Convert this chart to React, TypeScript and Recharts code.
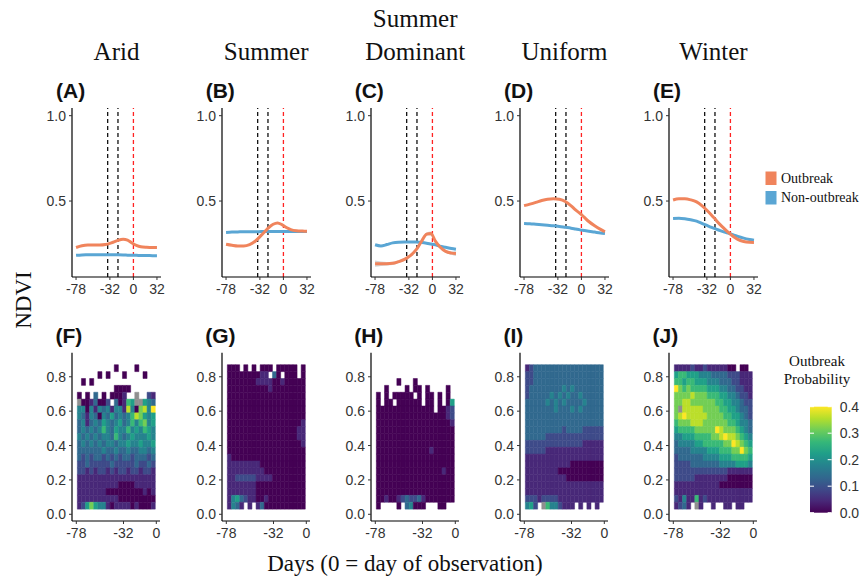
import React from 'react';
import { ComposedChart, Line, Area, XAxis, YAxis, ReferenceLine, ReferenceArea } from 'recharts';

// ---------- data: top row (smoothed NDVI trajectories) ----------
const days = [-78, -70, -62, -54, -46, -38, -30, -22, -14, -8, -2, 4, 10, 18, 26, 32];

const aridOutbreak = [0.228, 0.238, 0.242, 0.242, 0.242, 0.245, 0.255, 0.268, 0.276, 0.271, 0.254, 0.24, 0.232, 0.229, 0.228, 0.228];
const aridNon = [0.182, 0.184, 0.185, 0.186, 0.186, 0.186, 0.186, 0.185, 0.184, 0.183, 0.182, 0.182, 0.181, 0.181, 0.18, 0.18];

const summerOutbreak = [0.247, 0.241, 0.237, 0.237, 0.245, 0.266, 0.3, 0.336, 0.364, 0.372, 0.362, 0.345, 0.333, 0.326, 0.324, 0.323];
const summerNon = [0.316, 0.318, 0.319, 0.32, 0.32, 0.32, 0.321, 0.321, 0.321, 0.322, 0.322, 0.322, 0.322, 0.322, 0.322, 0.322];

const summerDomOutbreak = [0.133, 0.133, 0.133, 0.135, 0.145, 0.158, 0.18, 0.215, 0.27, 0.306, 0.31, 0.265, 0.232, 0.205, 0.195, 0.192];
const summerDomNon = [0.244, 0.237, 0.245, 0.255, 0.259, 0.26, 0.26, 0.26, 0.257, 0.253, 0.248, 0.243, 0.236, 0.229, 0.222, 0.218];
const summerDomOutbreakCI = [0.018, 0.013, 0.01, 0.009, 0.008, 0.008, 0.008, 0.008, 0.008, 0.01, 0.012, 0.01, 0.008, 0.008, 0.01, 0.014];

const uniformOutbreak = [0.473, 0.482, 0.492, 0.503, 0.511, 0.514, 0.51, 0.497, 0.472, 0.448, 0.428, 0.404, 0.38, 0.355, 0.334, 0.32];
const uniformNon = [0.369, 0.367, 0.364, 0.361, 0.358, 0.355, 0.351, 0.346, 0.341, 0.336, 0.331, 0.327, 0.323, 0.318, 0.313, 0.31];

const winterOutbreak = [0.506, 0.513, 0.513, 0.507, 0.495, 0.47, 0.437, 0.4, 0.362, 0.337, 0.313, 0.292, 0.275, 0.263, 0.258, 0.257];
const winterNon = [0.398, 0.399, 0.396, 0.39, 0.382, 0.368, 0.353, 0.34, 0.327, 0.318, 0.311, 0.302, 0.293, 0.283, 0.275, 0.27];

const regimeTitles = [['Arid'], ['Summer'], ['Summer', 'Dominant'], ['Uniform'], ['Winter']];
const topLetters = ['(A)', '(B)', '(C)', '(D)', '(E)'];
const bottomLetters = ['(F)', '(G)', '(H)', '(I)', '(J)'];
const topXTicks = [-78, -32, 0, 32];
const topYTicks = [0.5, 1.0];
const windowDays = [-35, -21];
const observationDay = 0;
const legendLabels = ['Outbreak', 'Non-outbreak'];

// ---------- data: bottom row (outbreak probability heatmaps) ----------
// rows listed top (NDVI 0.83-0.87) to bottom (0.03-0.07); columns are 4-day bins from -77 to -1
// digit = probability level (x 0.045), '.' = no data, 'g' = NA
const DAY_BIN_START = -77;
const DAY_BIN_WIDTH = 4;
const NDVI_BIN_START = 0.03;
const NDVI_BIN_WIDTH = 0.04;
const LEVEL_STEP = 0.045;
const PROB_MAX = 0.4;

const aridGrid = [
  '.........0....0....',
  '.....0.0...0....0..',
  '.0.0...............',
  '.........0000......',
  '0.0.3.0.0001..g..21',
  'g0013002.30165gg543',
  '4404143414418407849',
  '4314304353434687545',
  '3413435434534646745',
  '3434346435446454654',
  '4343434436434544454',
  '3434343443445445445',
  '3333334334334334434',
  '3232332323233233323',
  '2232222232222232232',
  '2212122121221221221',
  '1111111111111111111',
  '1111111111000011111',
  '1111111000000000101',
  '1111111111000000000',
  '1257544101111010001',
];

const summerGrid = [
  '000.0.0.000.00000.0',
  '0000000011.30.000.0',
  '0000000111100100000',
  '0000000000100000000',
  '0000000000000000000',
  '0000000000000000000',
  '0000000000000000000',
  '0000000000000000000',
  '0000000000000000001',
  '0000000000000000011',
  '0000000000000000011',
  '0000000000000000001',
  '0000000000000000000',
  '1000000000000000000',
  '1111111100000000000',
  '1111111110000000000',
  '1122222111100000000',
  '1111111000000000000',
  '1111111000000000000',
  '1453211001000000000',
  '1431.1.130000000000',
];

const summerDomGrid = [
  '...................',
  '...................',
  '.....0...0.........',
  '..0....0.00.0....0.',
  '0.0.00000.0.00.0.0.',
  '0.00.000000.00.0.05',
  '00000000000000.0012',
  '0000000000000000012',
  '0000000000000000001',
  '0000000000000000000',
  '0000000000000000000',
  '0000000000000000000',
  '0000000000000100000',
  '0000000000000000000',
  '0000000000000000000',
  '0000000000000000100',
  '0000000000000000000',
  '0000000000000000000',
  '0000000000000000000',
  '0010012322310000000',
  '0....0.34000...00..',
];

const uniformGrid = [
  '1233333333333333333',
  '2233333333333333333',
  '2233333333333333333',
  '2333333334343333333',
  '2333334343433433333',
  '3333343434333343333',
  '3333333433343433333',
  '3333333333333333333',
  '3333333333333333333',
  '3333333332333322222',
  '3333322222222222222',
  '2222222222222211111',
  '2222211111111111111',
  '1111111111111111111',
  '1111111111100000000',
  '1111111100000000000',
  '1111111111000000000',
  '1111111111111111111',
  '1111111111111111111',
  '2221222211111111111',
  '452.g6442111.1.1.1.',
];

const winterGrid = [
  '111121121111100.00.',
  '5665554443333222111',
  '6656655544433322111',
  '9767666655544332211',
  '7777877766655443221',
  '7788777777665544322',
  '7g88888777766554332',
  '7898888877776655432',
  '6777888777777665443',
  '5666677777987776543',
  '4455566667789887654',
  '3444455666667798765',
  '3333444455566677976',
  '2333333444455566665',
  '2222333333344445554',
  '2222222222222111111',
  '2222211111111000000',
  '1111111111100000000',
  '1111111111111111111',
  '2141161211111111111',
  '1231.g1..1..11.11..',
];

const heatXTicks = [-78, -32, 0];
const heatYTicks = [0, 0.2, 0.4, 0.6, 0.8];
const probTicks = [0, 0.1, 0.2, 0.3, 0.4];

// ---------- styling ----------
const ORANGE = '#F0845C';
const BLUE = '#5AA6D4';
const NA_GREY = '#8f8f8f';
const SERIF = '"Liberation Serif", "Times New Roman", serif';
const SANS = '"Liberation Sans", Arial, sans-serif';
const VIRIDIS = ['#440154', '#482878', '#3E4A89', '#31688E', '#26828E', '#1F9E89', '#35B779', '#6DCD59', '#B4DE2C', '#FDE725'];

const panelAxisX = [72, 221.7, 370.7, 520, 669];

// colour bar geometry
const BAR_X = 810;
const BAR_W = 21.7;
const BAR_TOP = 406.7;
const BAR_H = 106;

function hexRgb(h: string) {
  return [parseInt(h.slice(1, 3), 16), parseInt(h.slice(3, 5), 16), parseInt(h.slice(5, 7), 16)];
}
function viridis(t: number) {
  const c = Math.max(0, Math.min(1, t)) * (VIRIDIS.length - 1);
  const i = Math.min(Math.floor(c), VIRIDIS.length - 2);
  const f = c - i;
  const a = hexRgb(VIRIDIS[i]);
  const b = hexRgb(VIRIDIS[i + 1]);
  const m = a.map((v, k) => Math.round(v + (b[k] - v) * f));
  return `rgb(${m[0]},${m[1]},${m[2]})`;
}

function buildCells(grid: string[]) {
  const cells: { x1: number; x2: number; y1: number; y2: number; color: string }[] = [];
  grid.forEach((row, k) => {
    const r = grid.length - 1 - k;
    for (let c = 0; c < row.length; c++) {
      const ch = row[c];
      if (ch === '.') continue;
      const color = ch === 'g' ? NA_GREY : viridis((Number(ch) * LEVEL_STEP) / PROB_MAX);
      const x1 = DAY_BIN_START + c * DAY_BIN_WIDTH;
      const y1 = NDVI_BIN_START + r * NDVI_BIN_WIDTH;
      cells.push({ x1, x2: x1 + DAY_BIN_WIDTH, y1, y2: y1 + NDVI_BIN_WIDTH, color });
    }
  });
  return cells;
}

const tickStyle = { fontSize: 14, fill: '#333', fontFamily: SANS };
const axisLineStyle = { stroke: '#000', strokeWidth: 1.2 };
const tickLineStyle = { stroke: '#333', strokeWidth: 1 };

function TopPanel({ idx, out, non, ci }: { idx: number; out: number[]; non: number[]; ci?: number[] }) {
  const data = days.map((d, i) => ({
    day: d,
    out: out[i],
    non: non[i],
    band: ci ? [out[i] - ci[i], out[i] + ci[i]] : undefined,
  }));
  return (
    <div style={{ position: 'absolute', left: panelAxisX[idx] - 40, top: 100 }}>
      <ComposedChart width={139} height={207} data={data} margin={{ top: 8, right: 10, bottom: 0, left: 0 }}>
        <XAxis dataKey="day" type="number" domain={[-83.5, 37.5]} ticks={topXTicks} interval={0} height={30}
          tickSize={3} tickMargin={4} axisLine={axisLineStyle} tickLine={tickLineStyle} tick={tickStyle} allowDataOverflow />
        <YAxis type="number" domain={[0.055, 1.045]} ticks={topYTicks} width={40} tickSize={3} tickMargin={3}
          tickFormatter={(v: number) => v.toFixed(1)} axisLine={axisLineStyle} tickLine={tickLineStyle} tick={tickStyle} allowDataOverflow />
        {windowDays.map((d) => (
          <ReferenceLine key={d} x={d} stroke="#111" strokeDasharray="4 3" strokeWidth={1.3} />
        ))}
        <ReferenceLine x={observationDay} stroke="#F22" strokeDasharray="4 3" strokeWidth={1.3} />
        {ci && (
          <Area dataKey="band" type="monotone" fill="#b8b8b8" fillOpacity={0.6} stroke="none" isAnimationActive={false} />
        )}
        <Line dataKey="non" type="monotone" stroke={BLUE} strokeWidth={3} dot={false} isAnimationActive={false} />
        <Line dataKey="out" type="monotone" stroke={ORANGE} strokeWidth={3} dot={false} isAnimationActive={false} />
      </ComposedChart>
    </div>
  );
}

const heatFrame = [{ day: -78 }, { day: 0 }];

function HeatPanel({ idx, grid }: { idx: number; grid: string[] }) {
  const cells = buildCells(grid);
  return (
    <div style={{ position: 'absolute', left: panelAxisX[idx] - 40, top: 345 }}>
      <ComposedChart width={138} height={206} data={heatFrame} margin={{ top: 7.7, right: 10, bottom: 0, left: 0 }}>
        <XAxis dataKey="day" type="number" domain={[-82.2, 3.6]} ticks={heatXTicks} interval={0} height={30}
          tickSize={3} tickMargin={4} axisLine={axisLineStyle} tickLine={tickLineStyle} tick={tickStyle} allowDataOverflow />
        <YAxis type="number" domain={[-0.039, 0.94]} ticks={heatYTicks} width={40} tickSize={3} tickMargin={3}
          tickFormatter={(v: number) => v.toFixed(1)} axisLine={axisLineStyle} tickLine={tickLineStyle} tick={tickStyle} allowDataOverflow />
        {cells.map((c, i) => (
          <ReferenceArea key={i} x1={c.x1} x2={c.x2} y1={c.y1} y2={c.y2} fill={c.color} fillOpacity={1}
            stroke={c.color} strokeWidth={0.5} ifOverflow="visible" />
        ))}
      </ComposedChart>
    </div>
  );
}

function ColorBar() {
  const yOf = (v: number) => BAR_TOP + BAR_H - (v / PROB_MAX) * BAR_H;
  return (
    <g>
      <rect x={BAR_X} y={BAR_TOP} width={BAR_W} height={BAR_H} fill="url(#viridisBar)" />
      {probTicks.map((t) => (
        <g key={t}>
          <line x1={BAR_X} x2={BAR_X + 4} y1={yOf(t)} y2={yOf(t)} stroke="#fff" strokeWidth={1} />
          <line x1={BAR_X + BAR_W - 4} x2={BAR_X + BAR_W} y1={yOf(t)} y2={yOf(t)} stroke="#fff" strokeWidth={1} />
          <text x={BAR_X + BAR_W + 8} y={yOf(t)} dy="0.35em" fontFamily={SANS} fontSize={14} fill="#333">
            {t.toFixed(1)}
          </text>
        </g>
      ))}
    </g>
  );
}

export default function App() {
  const titleCenters = panelAxisX.map((x) => x + 44.5);
  return (
    <div style={{ position: 'absolute', left: 0, top: 0, width: 862, height: 579, background: '#fff', overflow: 'hidden' }}>
      <svg width={862} height={579} style={{ position: 'absolute', left: 0, top: 0 }}>
        <defs>
          <linearGradient id="viridisBar" x1="0" y1="1" x2="0" y2="0">
            {VIRIDIS.map((c, i) => (
              <stop key={i} offset={i / (VIRIDIS.length - 1)} stopColor={c} />
            ))}
          </linearGradient>
        </defs>
        {regimeTitles.map((lines, i) =>
          lines.map((t, j) => (
            <text key={`${i}-${j}`} x={titleCenters[i]} y={60 - (lines.length - 1 - j) * 33} textAnchor="middle"
              fontFamily={SERIF} fontSize={25} fill="#111">
              {t}
            </text>
          ))
        )}
        {topLetters.map((t, i) => (
          <text key={t} x={panelAxisX[i] - 16} y={98} fontFamily={SANS} fontWeight="bold" fontSize={21} fill="#111">{t}</text>
        ))}
        {bottomLetters.map((t, i) => (
          <text key={t} x={panelAxisX[i] - 16.5} y={343} fontFamily={SANS} fontWeight="bold" fontSize={21} fill="#111">{t}</text>
        ))}
        <text x={31} y={300} transform="rotate(-90 31 300)" textAnchor="middle" fontFamily={SERIF} fontSize={23} fill="#111">NDVI</text>
        <text x={405} y={571} textAnchor="middle" fontFamily={SERIF} fontSize={23} fill="#111">Days (0 = day of observation)</text>
        <rect x={765.5} y={171.5} width={11} height={13.5} fill={ORANGE} />
        <rect x={765.5} y={191} width={11} height={13.5} fill={BLUE} />
        <text x={781} y={182.5} fontFamily={SERIF} fontSize={14} fill="#111">{legendLabels[0]}</text>
        <text x={781} y={202} fontFamily={SERIF} fontSize={14} fill="#111">{legendLabels[1]}</text>
        <text x={817} y={366} textAnchor="middle" fontFamily={SERIF} fontSize={15} fill="#111">Outbreak</text>
        <text x={817} y={384} textAnchor="middle" fontFamily={SERIF} fontSize={15} fill="#111">Probability</text>
        <ColorBar />
      </svg>
      <TopPanel idx={0} out={aridOutbreak} non={aridNon} />
      <TopPanel idx={1} out={summerOutbreak} non={summerNon} />
      <TopPanel idx={2} out={summerDomOutbreak} non={summerDomNon} ci={summerDomOutbreakCI} />
      <TopPanel idx={3} out={uniformOutbreak} non={uniformNon} />
      <TopPanel idx={4} out={winterOutbreak} non={winterNon} />
      <HeatPanel idx={0} grid={aridGrid} />
      <HeatPanel idx={1} grid={summerGrid} />
      <HeatPanel idx={2} grid={summerDomGrid} />
      <HeatPanel idx={3} grid={uniformGrid} />
      <HeatPanel idx={4} grid={winterGrid} />
    </div>
  );
}
